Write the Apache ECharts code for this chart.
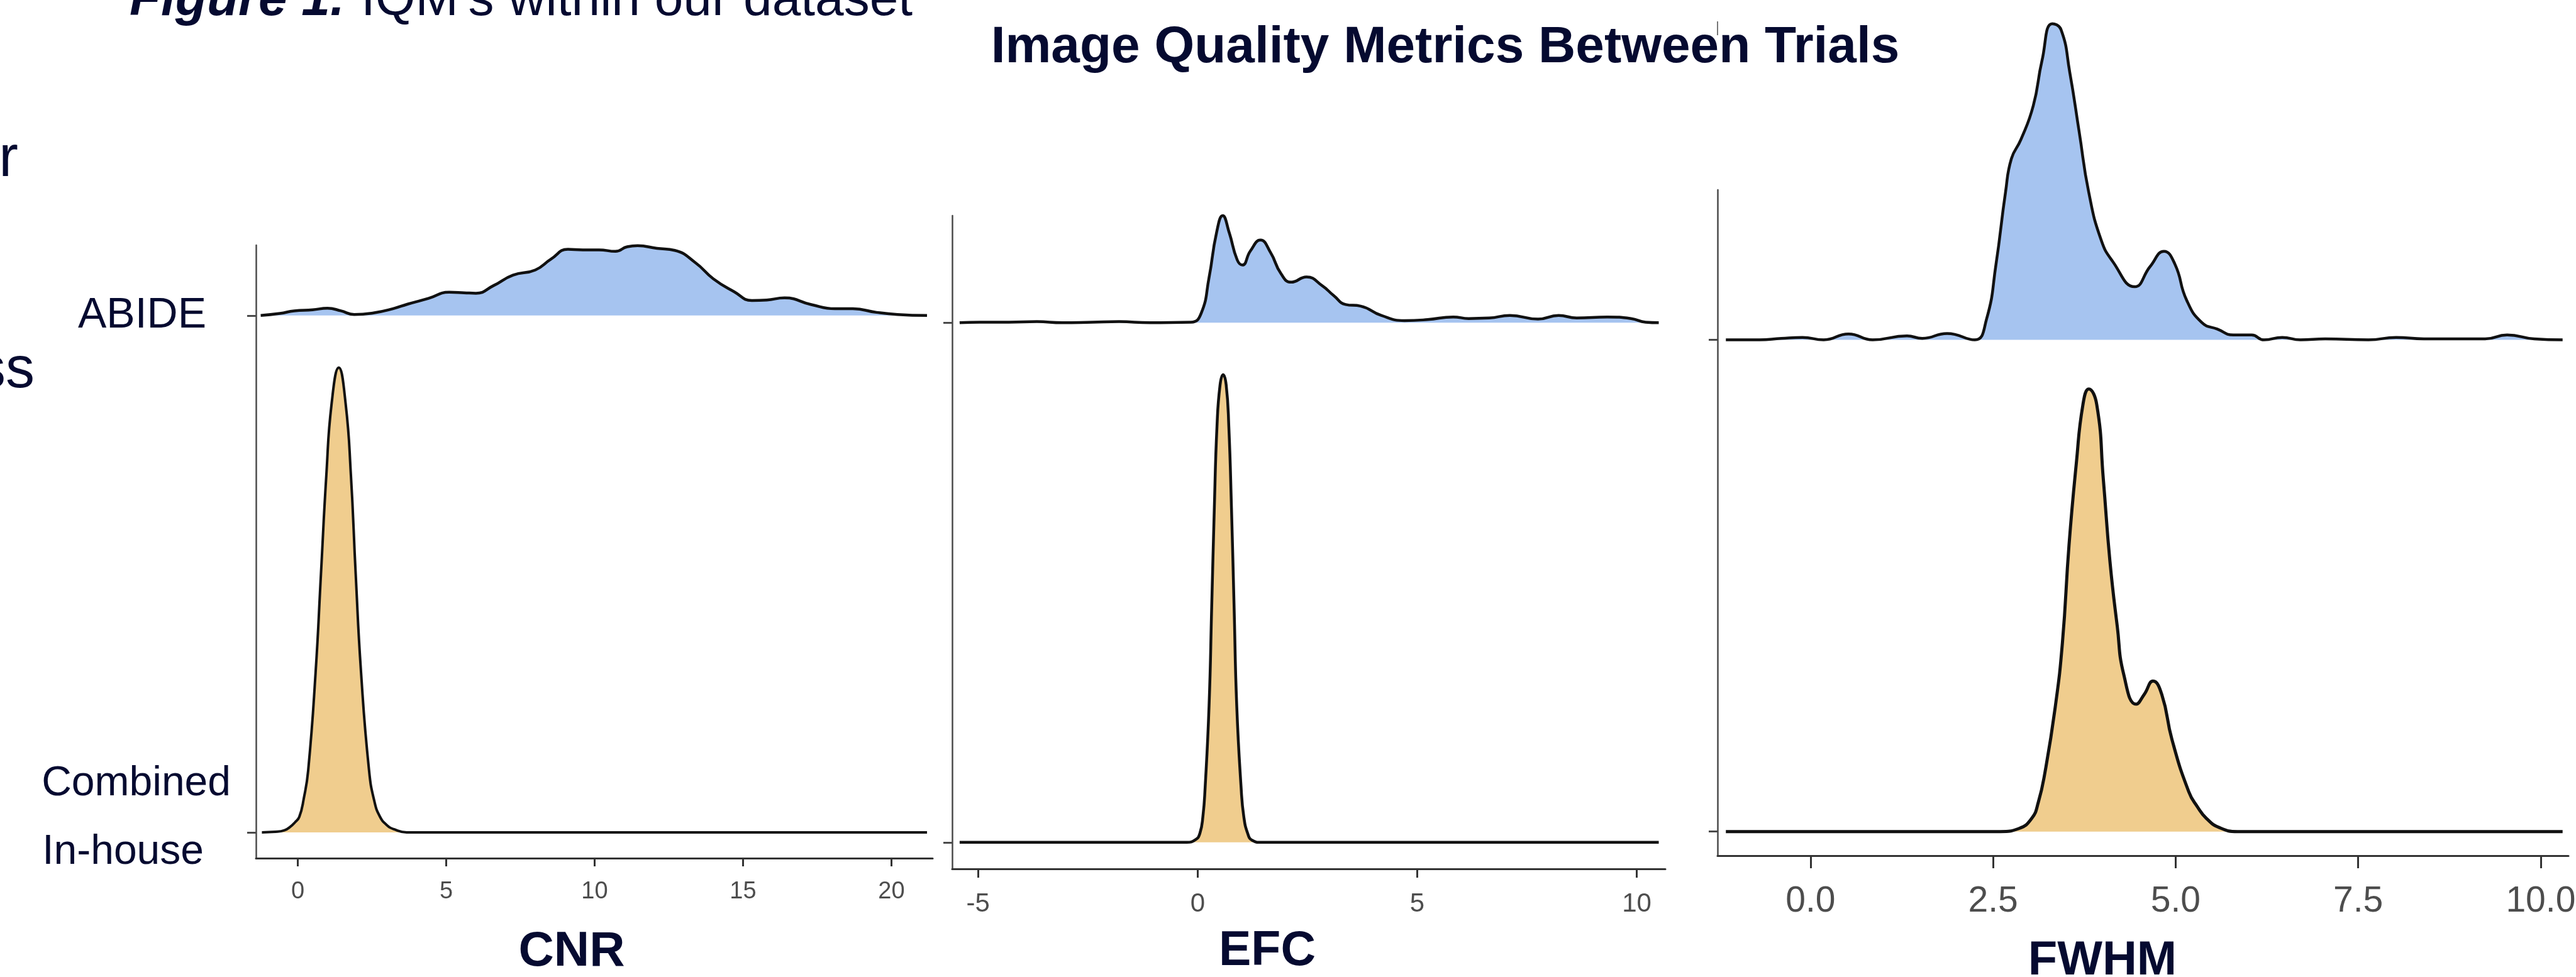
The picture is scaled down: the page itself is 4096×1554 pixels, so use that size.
<!DOCTYPE html>
<html>
<head>
<meta charset="utf-8">
<title>Image Quality Metrics Between Trials</title>
<script src="https://cdn.jsdelivr.net/npm/echarts@6/dist/echarts.min.js"></script>
<style>
  html, body { margin: 0; padding: 0; background: #fff; }
  #chart { width: 4096px; height: 1554px; }
</style>
</head>
<body>
<div id="chart"></div>
<script>
// ridge rows: In-house sits on 1, ABIDE on 2
var groups = ['In-house', 'ABIDE'];
var metrics = ['CNR', 'EFC', 'FWHM'];

var cnrTicks = [0, 5, 10, 15, 20];
var efcTicks = [-5, 0, 5, 10];
var fwhmTicks = [0, 2.5, 5, 7.5, 10];

// density curves: [metric value, ridge height]
var cnrAbide = [[-1.25,0],[-0.6,0.004],[-0.12,0.009],[0.5,0.011],[1.0,0.014],[1.45,0.009],[1.9,0.002],[2.55,0.005],
  [3.2,0.013],[3.7,0.022],[4.4,0.033],[5.1,0.045],[5.6,0.044],[6.0,0.043],[6.6,0.058],[7.25,0.078],[8.0,0.088],
  [8.53,0.109],[9.1,0.128],[9.6,0.127],[10.15,0.127],[10.7,0.124],[11.1,0.133],[11.45,0.135],[12.1,0.13],[12.7,0.126],
  [13.4,0.102],[14.0,0.071],[14.7,0.046],[15.3,0.029],[15.8,0.03],[16.4,0.034],[17.3,0.021],[18.1,0.013],[18.7,0.013],
  [19.5,0.006],[20.2,0.002],[21.2,0]];
var cnrInhouse = [[-1.21,0],[-0.75,0.001],[-0.45,0.004],[-0.25,0.011],[-0.1,0.019],[0.05,0.03],[0.2,0.065],[0.35,0.12],
  [0.6,0.31],[0.78,0.5],[0.96,0.69],[1.14,0.83],[1.38,0.899],[1.61,0.83],[1.79,0.69],[1.95,0.5],[2.13,0.31],[2.4,0.12],
  [2.58,0.06],[2.77,0.03],[3.0,0.014],[3.24,0.006],[3.67,0],[8,0],[14,0],[21.2,0]];

var efcAbide = [[-5.42,0],[-4.96,0.001],[-4.3,0.001],[-3.66,0.002],[-3.08,0],[-2.4,0.001],[-1.79,0.002],[-1.09,0],
  [-0.15,0.001],[0.08,0.018],[0.26,0.087],[0.43,0.173],[0.57,0.206],[0.72,0.173],[0.9,0.121],[1.02,0.111],[1.2,0.138],
  [1.43,0.159],[1.66,0.135],[1.9,0.094],[2.13,0.078],[2.48,0.088],[2.84,0.071],[3.1,0.052],[3.37,0.035],[3.71,0.032],
  [4.18,0.014],[4.71,0.004],[5.24,0.006],[5.82,0.011],[6.17,0.008],[6.64,0.009],[7.11,0.014],[7.75,0.007],[8.22,0.014],
  [8.63,0.009],[9.33,0.011],[9.87,0.008],[10.2,0.001],[10.5,0]];
var efcInhouse = [[-5.42,0],[-2,0],[-0.25,0],[-0.05,0.005],[0.05,0.017],[0.12,0.05],[0.17,0.105],[0.26,0.263],
  [0.32,0.453],[0.38,0.644],[0.44,0.8],[0.51,0.88],[0.58,0.9],[0.65,0.88],[0.71,0.8],[0.77,0.644],[0.83,0.453],
  [0.89,0.263],[0.99,0.105],[1.05,0.05],[1.14,0.017],[1.24,0.004],[1.45,0],[5,0],[10.5,0]];

var fwhmAbide = [[-1.16,0],[-0.7,0],[-0.4,0.003],[-0.11,0.005],[0.18,0],[0.52,0.012],[0.85,0],[1.32,0.008],[1.53,0.003],
  [1.87,0.013],[2.25,0],[2.41,0.042],[2.54,0.154],[2.67,0.3],[2.75,0.368],[2.88,0.407],[3.05,0.476],[3.17,0.568],
  [3.31,0.643],[3.43,0.631],[3.55,0.544],[3.68,0.422],[3.81,0.3],[3.98,0.203],[4.14,0.159],[4.44,0.108],[4.65,0.149],
  [4.84,0.18],[4.99,0.154],[5.15,0.081],[5.36,0.035],[5.57,0.022],[5.79,0.01],[6.04,0.01],[6.21,0],[6.46,0.005],
  [6.71,0],[7.05,0.002],[7.64,0],[8.02,0.005],[8.4,0.002],[9.24,0.002],[9.54,0.01],[9.91,0.002],[10.3,0]];
var fwhmInhouse = [[-1.16,0],[1,0],[2.6,0],[2.85,0.006],[3.03,0.027],[3.12,0.06],[3.21,0.12],[3.35,0.252],[3.45,0.385],
  [3.54,0.583],[3.64,0.749],[3.73,0.868],[3.81,0.9],[3.92,0.868],[4.01,0.716],[4.1,0.55],[4.2,0.418],[4.29,0.319],
  [4.46,0.259],[4.57,0.279],[4.69,0.306],[4.81,0.279],[4.95,0.187],[5.18,0.081],[5.3,0.05],[5.42,0.027],[5.6,0.008],
  [5.85,0],[8,0],[10.3,0]];

var navy = '#050a30';
var font = '"Liberation Sans", Arial, sans-serif';
var abideFill = '#a6c4f0';
var inhouseFill = '#f0cd8e';

function ridge(data, row, fill, gi, lw) {
  return {
    type: 'line',
    name: groups[row - 1],
    xAxisIndex: gi,
    yAxisIndex: gi,
    data: data.map(function (p) { return [p[0], row + p[1]]; }),
    smooth: 0.5,
    symbol: 'none',
    clip: false,
    z: row === 1 ? 4 : 3,
    lineStyle: { color: '#111', width: lw, join: 'round' },
    areaStyle: { color: fill, opacity: 1, origin: row }
  };
}

function xAx(gi, min, max, ticks, fs, margin, tickLen, fmt) {
  return {
    type: 'value', gridIndex: gi, min: min, max: max,
    splitLine: { show: false },
    axisLine: { show: true, onZero: false, lineStyle: { color: '#333', width: 3 } },
    axisTick: { show: true, customValues: ticks, length: tickLen, lineStyle: { color: '#333', width: 3 } },
    axisLabel: {
      customValues: ticks, margin: margin, color: '#4d4d4d',
      fontSize: fs, fontFamily: font, formatter: fmt
    }
  };
}

function yAx(gi, min, max, showLabel) {
  return {
    type: 'value', gridIndex: gi, min: min, max: max,
    splitLine: { show: false },
    axisLine: { show: true, onZero: false, lineStyle: { color: '#4a4a4a', width: 2.5 } },
    axisTick: { show: true, customValues: [1, 2], length: 14, lineStyle: { color: '#4a4a4a', width: 3 } },
    axisLabel: {
      show: showLabel, customValues: [2], margin: 79, color: navy,
      fontSize: 68, fontFamily: font,
      formatter: function (v) { return v === 2 ? groups[1] : ''; }
    }
  };
}

var option = {
  animation: false,
  backgroundColor: '#fff',
  grid: [
    { left: 407, top: 390, width: 1076, height: 975, containLabel: false, outerBoundsMode: 'none' },
    { left: 1514, top: 343, width: 1134, height: 1039, containLabel: false, outerBoundsMode: 'none' },
    { left: 2731, top: 302, width: 1353, height: 1059, containLabel: false, outerBoundsMode: 'none' }
  ],
  xAxis: [
    xAx(0, -1.41, 21.39, cnrTicks, 38, 35, 13, function (v) { return String(v); }),
    xAx(1, -5.59, 10.65, efcTicks, 42, 35, 14, function (v) { return String(v); }),
    xAx(2, -1.274, 10.38, fwhmTicks, 57, 45, 20, function (v) { return v.toFixed(1); })
  ],
  yAxis: [
    yAx(0, 0.95, 2.136, true),
    yAx(1, 0.949, 2.206, false),
    yAx(2, 0.951, 2.305, false)
  ],
  series: [
    ridge(cnrAbide, 2, abideFill, 0, 4.5),
    ridge(cnrInhouse, 1, inhouseFill, 0, 4),
    ridge(efcAbide, 2, abideFill, 1, 4.5),
    ridge(efcInhouse, 1, inhouseFill, 1, 4.5),
    ridge(fwhmAbide, 2, abideFill, 2, 4.5),
    ridge(fwhmInhouse, 1, inhouseFill, 2, 5)
  ],
  graphic: [
    { type: 'text', x: 2298, y: 76, style: { text: 'Image Quality Metrics Between Trials', fontSize: 82, fontWeight: 'bold', fontFamily: font, fill: navy, align: 'center', verticalAlign: 'middle' } },
    { type: 'text', x: 206, y: 1, style: { text: 'Figure 1.', fontSize: 82, fontWeight: 'bold', fontStyle: 'italic', fontFamily: font, fill: navy, align: 'left', verticalAlign: 'middle' } },
    { type: 'text', x: 574, y: 1, style: { text: "IQM's within our dataset", fontSize: 82, fontFamily: font, fill: navy, align: 'left', verticalAlign: 'middle' } },
    { type: 'text', x: 29, y: 255, style: { text: 'r', fontSize: 92, fontFamily: font, fill: navy, align: 'right', verticalAlign: 'middle' } },
    { type: 'text', x: 55, y: 591, style: { text: 'ss', fontSize: 92, fontFamily: font, fill: navy, align: 'right', verticalAlign: 'middle' } },
    { type: 'text', x: 367, y: 1247, style: { text: 'Combined', fontSize: 66, fontFamily: font, fill: navy, align: 'right', verticalAlign: 'middle' } },
    { type: 'text', x: 324, y: 1356, style: { text: groups[0], fontSize: 66, fontFamily: font, fill: navy, align: 'right', verticalAlign: 'middle' } },
    { type: 'text', x: 909, y: 1514, style: { text: metrics[0], fontSize: 78, fontWeight: 'bold', fontFamily: font, fill: navy, align: 'center', verticalAlign: 'middle' } },
    { type: 'text', x: 2015, y: 1514, style: { text: metrics[1], fontSize: 77, fontWeight: 'bold', fontFamily: font, fill: navy, align: 'center', verticalAlign: 'middle' } },
    { type: 'text', x: 3343, y: 1529, style: { text: metrics[2], fontSize: 76, fontWeight: 'bold', fontFamily: font, fill: navy, align: 'center', verticalAlign: 'middle' } },
    { type: 'line', shape: { x1: 2731, y1: 34, x2: 2731, y2: 56 }, style: { stroke: '#777', lineWidth: 2 } }
  ]
};

var chart = echarts.init(document.getElementById('chart'));
chart.setOption(option);
</script>
</body>
</html>
